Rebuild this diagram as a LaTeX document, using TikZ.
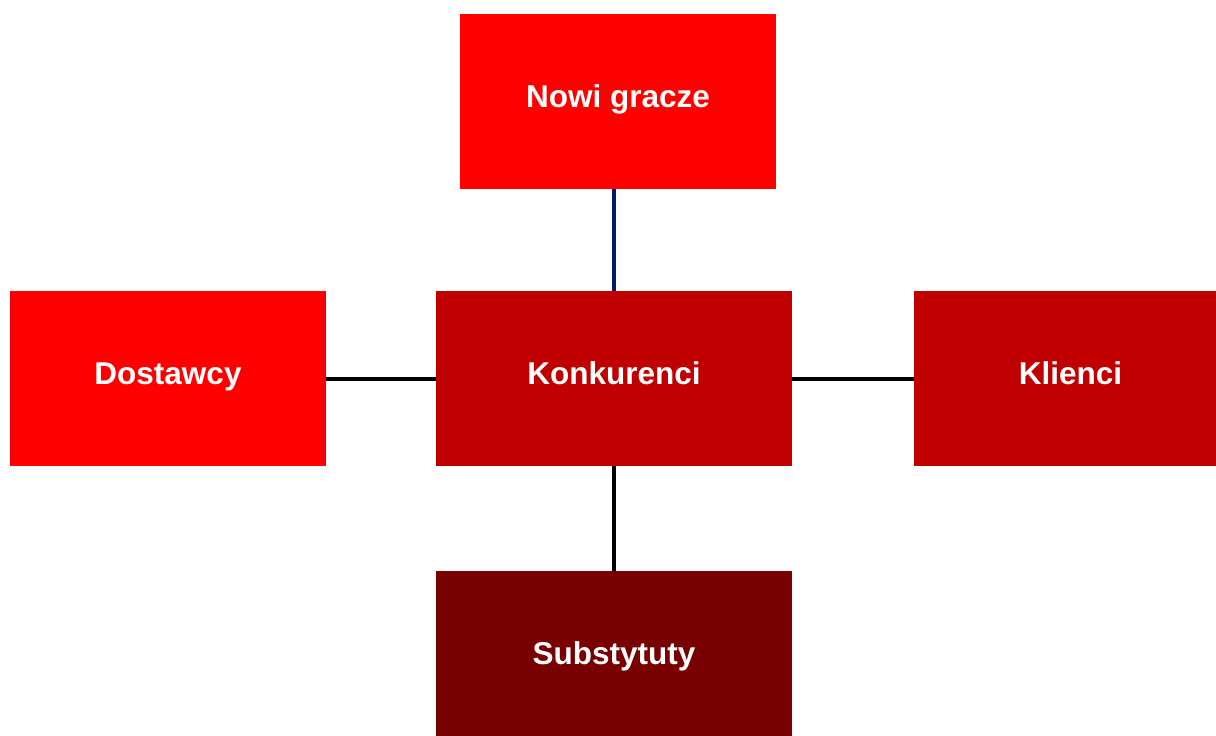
\documentclass[tikz,border=0pt]{standalone}
\usepackage{fontspec}
\setmainfont{Liberation Sans}
\definecolor{cred}{HTML}{FF0000}
\definecolor{cmid}{HTML}{C00000}
\definecolor{cdark}{HTML}{780000}
\definecolor{cblue}{HTML}{002060}
\begin{document}
\begin{tikzpicture}[x=1pt,y=-1pt,
  boxst/.style={draw=none,inner sep=0pt,text=white,text height=15.5pt,text depth=4.5pt,
    minimum height=175pt,font=\bfseries\fontsize{31.5}{36}\selectfont},
  linkst/.style={line width=4pt}]
\useasboundingbox (0,0) rectangle (1216,736);
\clip (0,0) rectangle (1216,736);
\node[boxst,fill=cred,minimum width=316pt] (nowi) at (618,101.5) {Nowi gracze};
\node[boxst,fill=cred,minimum width=316pt] (dost) at (168,378.5) {Dostawcy};
\node[boxst,fill=cmid,minimum width=356pt] (konk) at (614,378.5) {Konkurenci};
\node[boxst,fill=cmid,minimum width=313pt] (klie) at (1070.5,378.5) {Klienci};
\node[boxst,fill=cdark,minimum width=356pt] (subs) at (614,658.5) {Substytuty};
\draw[linkst,cblue] (konk.north) -- (konk.north |- nowi.south);
\draw[linkst,black] (dost.east) -- (konk.west);
\draw[linkst,black] (konk.east) -- (klie.west);
\draw[linkst,black] (konk.south) -- (subs.north);
\end{tikzpicture}
\end{document}
